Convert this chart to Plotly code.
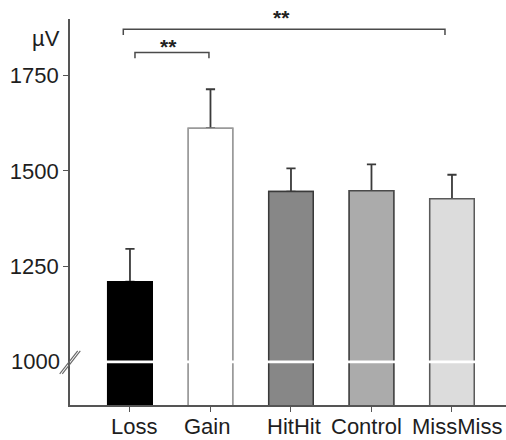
import plotly.graph_objects as go

# Mean amplitudes per condition (µV) with their standard errors
conditions = ["Loss", "Gain", "HitHit", "Control", "MissMiss"]
amplitude = [1210, 1612, 1446, 1448, 1427]
sem = [86, 102, 61, 69, 63]
y_ticks = [1250, 1500, 1750]

fills = ["#000000", "#ffffff", "#878787", "#ababab", "#dcdcdc"]
edges = ["#000000", "#9a9a9a", "#3a3a3a", "#4a4a4a", "#5a5a5a"]
# small horizontal nudges (px) of the category labels
label_nudge = [4, -3, 3, -5, 5]

axis_color = "#555555"
text_color = "#1e1e1e"
font_family = "Liberation Sans, Arial, sans-serif"
label_font = dict(size=22, color=text_color, family=font_family)

x_pos = list(range(len(conditions)))
bar_style = dict(color=fills, line=dict(color=edges, width=1.5))

fig = go.Figure()
# whiskers (upper half only)
fig.add_trace(go.Bar(
    x=x_pos, y=amplitude, width=0.553, marker=bar_style,
    error_y=dict(type="data", symmetric=False, array=sem,
                 arrayminus=[0] * len(sem),
                 color="#3a3a3a", thickness=1.8, width=4.6),
    showlegend=False, hoverinfo="skip",
))
# the bars again on top, so the lower whisker cap sits under the bar edge
fig.add_trace(go.Bar(
    x=x_pos, y=amplitude, width=0.553, marker=bar_style,
    showlegend=False,
))

shapes = []
# white break band across the bars at the axis break
shapes.append(dict(type="line", xref="paper", yref="y", x0=0.006, x1=1,
                   y0=1000, y1=1000, line=dict(color="white", width=2.6),
                   layer="above"))
# double slash marking the broken y axis
for dx in (-1.3, 1.3):
    shapes.append(dict(type="line", xref="paper", yref="y",
                       xsizemode="pixel", ysizemode="pixel",
                       xanchor=0, yanchor=1000,
                       x0=-9 + dx, x1=9 + dx, y0=-12, y1=11,
                       line=dict(color="#666666", width=1.1), layer="above"))

# significance brackets: (left end, right end, level, drop)
brackets = [(-0.083, 3.913, 1871, 1856), (0.062, 0.981, 1810, 1795)]
for xa, xb, top, low in brackets:
    shapes.append(dict(type="path", xref="x", yref="y",
                       path=f"M {xa},{low} L {xa},{top} L {xb},{top} L {xb},{low}",
                       line=dict(color="#4a4a4a", width=1.5)))

star_font = dict(size=21, color="#222", family=font_family)
annotations = [
    dict(x=1.876, y=1.0, xref="x", yref="paper", yanchor="bottom",
         yshift=-12, text="<b>**</b>", showarrow=False, font=star_font),
    dict(x=0.484, y=1826, xref="x", yref="y", text="<b>**</b>",
         showarrow=False, font=star_font),
    dict(x=0, y=1846, xref="paper", yref="y", text="µV", showarrow=False,
         xanchor="right", xshift=-8, font=label_font),
    dict(x=0, y=1000, xref="paper", yref="y", text="1000", showarrow=False,
         xanchor="right", xshift=-8, font=label_font),
]
# category labels under the ticks
for xi, name, nudge in zip(x_pos, conditions, label_nudge):
    annotations.append(dict(x=xi, y=0, xref="x", yref="paper", text=name,
                            showarrow=False, yanchor="middle", yshift=-21,
                            xshift=nudge, font=label_font))

fig.update_layout(
    width=506, height=440,
    margin=dict(l=70, r=0, t=19, b=35, autoexpand=False),
    paper_bgcolor="white", plot_bgcolor="white",
    shapes=shapes, annotations=annotations,
    barmode="overlay",
    font=dict(family=font_family, size=22, color=text_color),
)
fig.update_xaxes(
    range=[-0.745, 4.671], tickvals=x_pos, showticklabels=False,
    automargin=False,
    showline=True, linecolor=axis_color, linewidth=1.6,
    ticks="outside", ticklen=5, tickwidth=1.3, tickcolor=axis_color,
    showgrid=False, zeroline=False,
)
fig.update_yaxes(
    range=[887, 1898], tickvals=y_ticks, automargin=False,
    showline=True, linecolor=axis_color, linewidth=1.6,
    ticks="outside", ticklen=5, tickwidth=1.3, tickcolor=axis_color,
    showgrid=False, zeroline=False,
    tickfont=label_font,
)

fig.write_html("out.html")
